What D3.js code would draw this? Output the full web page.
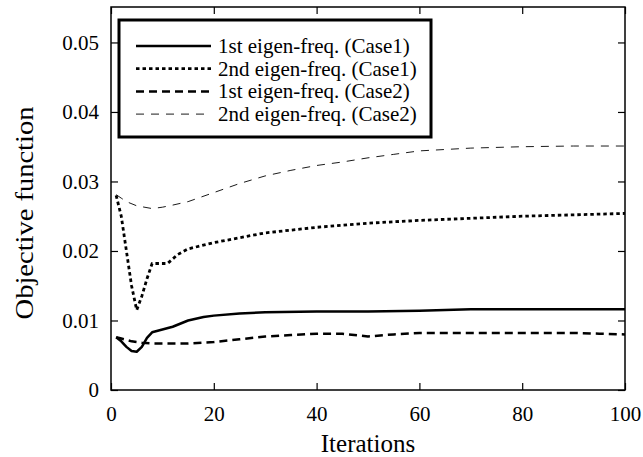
<!DOCTYPE html>
<html>
<head>
<meta charset="utf-8">
<script src="https://cdn.jsdelivr.net/npm/d3@7"></script>
<style>
  body { margin: 0; background: #fff; }
</style>
</head>
<body>
<div id="chart"></div>
<script>
// values
const case1First = [[1,0.0076],[2,0.0070],[3,0.0062],[4,0.0056],[5,0.0055],[6,0.0062],[7,0.0075],[8,0.0083],[10,0.0087],[12,0.0091],[15,0.0100],[18,0.0105],[20,0.0107],[25,0.0110],[30,0.0112],[40,0.0113],[50,0.0113],[60,0.0114],[70,0.0116],[80,0.0116],[90,0.0116],[100,0.0116]];
const case1Second = [[1,0.0280],[2,0.0250],[3,0.0200],[4,0.0150],[5,0.0115],[6,0.0135],[7,0.0160],[8,0.0182],[10,0.0182],[11,0.0182],[13,0.0195],[15,0.0203],[20,0.0212],[25,0.0219],[30,0.0226],[40,0.0234],[50,0.0240],[60,0.0244],[70,0.0247],[80,0.0250],[90,0.0252],[100,0.0254]];
const case2First = [[1,0.0076],[2,0.0074],[3,0.0072],[4,0.0070],[5,0.0069],[6,0.0068],[8,0.0067],[10,0.0067],[15,0.0067],[20,0.0069],[25,0.0073],[30,0.0077],[35,0.0079],[40,0.0081],[45,0.0081],[50,0.0077],[55,0.0080],[60,0.0082],[70,0.0082],[80,0.0082],[90,0.0082],[95,0.0081],[100,0.0080]];
const case2Second = [[1,0.0281],[2,0.0276],[3,0.0271],[5,0.0265],[8,0.0261],[10,0.0263],[12,0.0266],[15,0.0271],[20,0.0284],[25,0.0297],[30,0.0308],[35,0.0316],[40,0.0323],[45,0.0328],[50,0.0334],[55,0.0339],[60,0.0344],[65,0.0346],[70,0.0348],[80,0.0350],[90,0.0351],[100,0.0351]];

const xTicks = [0, 20, 40, 60, 80, 100];
const yTicks = [0, 0.01, 0.02, 0.03, 0.04, 0.05];

const series = [
  {name: "1st eigen-freq. (Case1)", data: case1First,  width: 2.5, dash: null},
  {name: "2nd eigen-freq. (Case1)", data: case1Second, width: 2.8, dash: "3.5,3"},
  {name: "1st eigen-freq. (Case2)", data: case2First,  width: 2.5, dash: "8,5"},
  {name: "2nd eigen-freq. (Case2)", data: case2Second, width: 0.9, dash: "8,7"}
];

const FONT = "'Liberation Serif', 'Times New Roman', serif";
const W = 643, H = 457;
const margin = {top: 7, right: 18, bottom: 67, left: 111};
const width = W - margin.left - margin.right;
const height = H - margin.top - margin.bottom;

const svg = d3.select("#chart").append("svg")
    .attr("width", W)
    .attr("height", H)
    .style("font-family", FONT);

const g = svg.append("g")
    .attr("transform", `translate(${margin.left},${margin.top})`);

const x = d3.scaleLinear().domain([0, 100]).range([0, width]);
const y = d3.scaleLinear().domain([0, 0.0551]).range([height, 0]);

const tickLen = 7;

function styleAxis(a) {
    a.attr("font-family", FONT).attr("font-size", 21);
    a.select(".domain").remove();
    a.selectAll("text").style("font-family", FONT).style("font-size", "21px").attr("fill", "#000");
}

// bottom / top axes
g.append("g")
    .attr("transform", `translate(0,${height})`)
    .call(d3.axisBottom(x).tickValues(xTicks).tickSize(-tickLen).tickPadding(16).tickFormat(d3.format("d")))
    .call(styleAxis);

g.append("g")
    .call(d3.axisTop(x).tickValues(xTicks).tickSize(-tickLen).tickFormat(""))
    .call(styleAxis);

// left / right axes
g.append("g")
    .call(d3.axisLeft(y).tickValues(yTicks).tickSize(-tickLen).tickPadding(12)
        .tickFormat(d => d === 0 ? "0" : d3.format(".2f")(d)))
    .call(styleAxis);

g.append("g")
    .attr("transform", `translate(${width},0)`)
    .call(d3.axisRight(y).tickValues(yTicks).tickSize(-tickLen).tickFormat(""))
    .call(styleAxis);

g.selectAll(".tick line").attr("stroke", "#000").attr("stroke-width", 1.2);

// frame
g.append("rect")
    .attr("width", width)
    .attr("height", height)
    .attr("fill", "none")
    .attr("stroke", "#000")
    .attr("stroke-width", 1.5);

const line = d3.line()
    .x(d => x(d[0]))
    .y(d => y(d[1]));

g.selectAll(".series")
  .data(series)
  .enter().append("path")
    .attr("class", "series")
    .attr("d", d => line(d.data))
    .attr("fill", "none")
    .attr("stroke", "#000")
    .attr("stroke-width", d => d.width)
    .attr("stroke-dasharray", d => d.dash)
    .attr("stroke-linejoin", "round");

// legend
const leg = g.append("g").attr("transform", "translate(8,13)");
leg.append("rect")
    .attr("width", 312)
    .attr("height", 117)
    .attr("fill", "#fff")
    .attr("stroke", "#000")
    .attr("stroke-width", 3);

series.forEach((s, i) => {
  const ly = 26 + i * 22.7;
  leg.append("line")
      .attr("x1", 17).attr("x2", 92)
      .attr("y1", ly).attr("y2", ly)
      .attr("stroke", "#000")
      .attr("stroke-width", s.width)
      .attr("stroke-dasharray", s.dash);
  leg.append("text")
      .attr("x", 99)
      .attr("y", ly + 7)
      .style("font-family", FONT)
      .style("font-size", "21px")
      .text(s.name);
});

// axis titles
svg.append("text")
    .attr("x", margin.left + width / 2)
    .attr("y", 452)
    .attr("text-anchor", "middle")
    .style("font-family", FONT)
    .style("font-size", "25px")
    .text("Iterations");

svg.append("text")
    .attr("transform", `translate(33,${213}) rotate(-90) scale(1.14,1)`)
    .attr("text-anchor", "middle")
    .style("font-family", FONT)
    .style("font-size", "25px")
    .text("Objective function");
</script>
</body>
</html>
